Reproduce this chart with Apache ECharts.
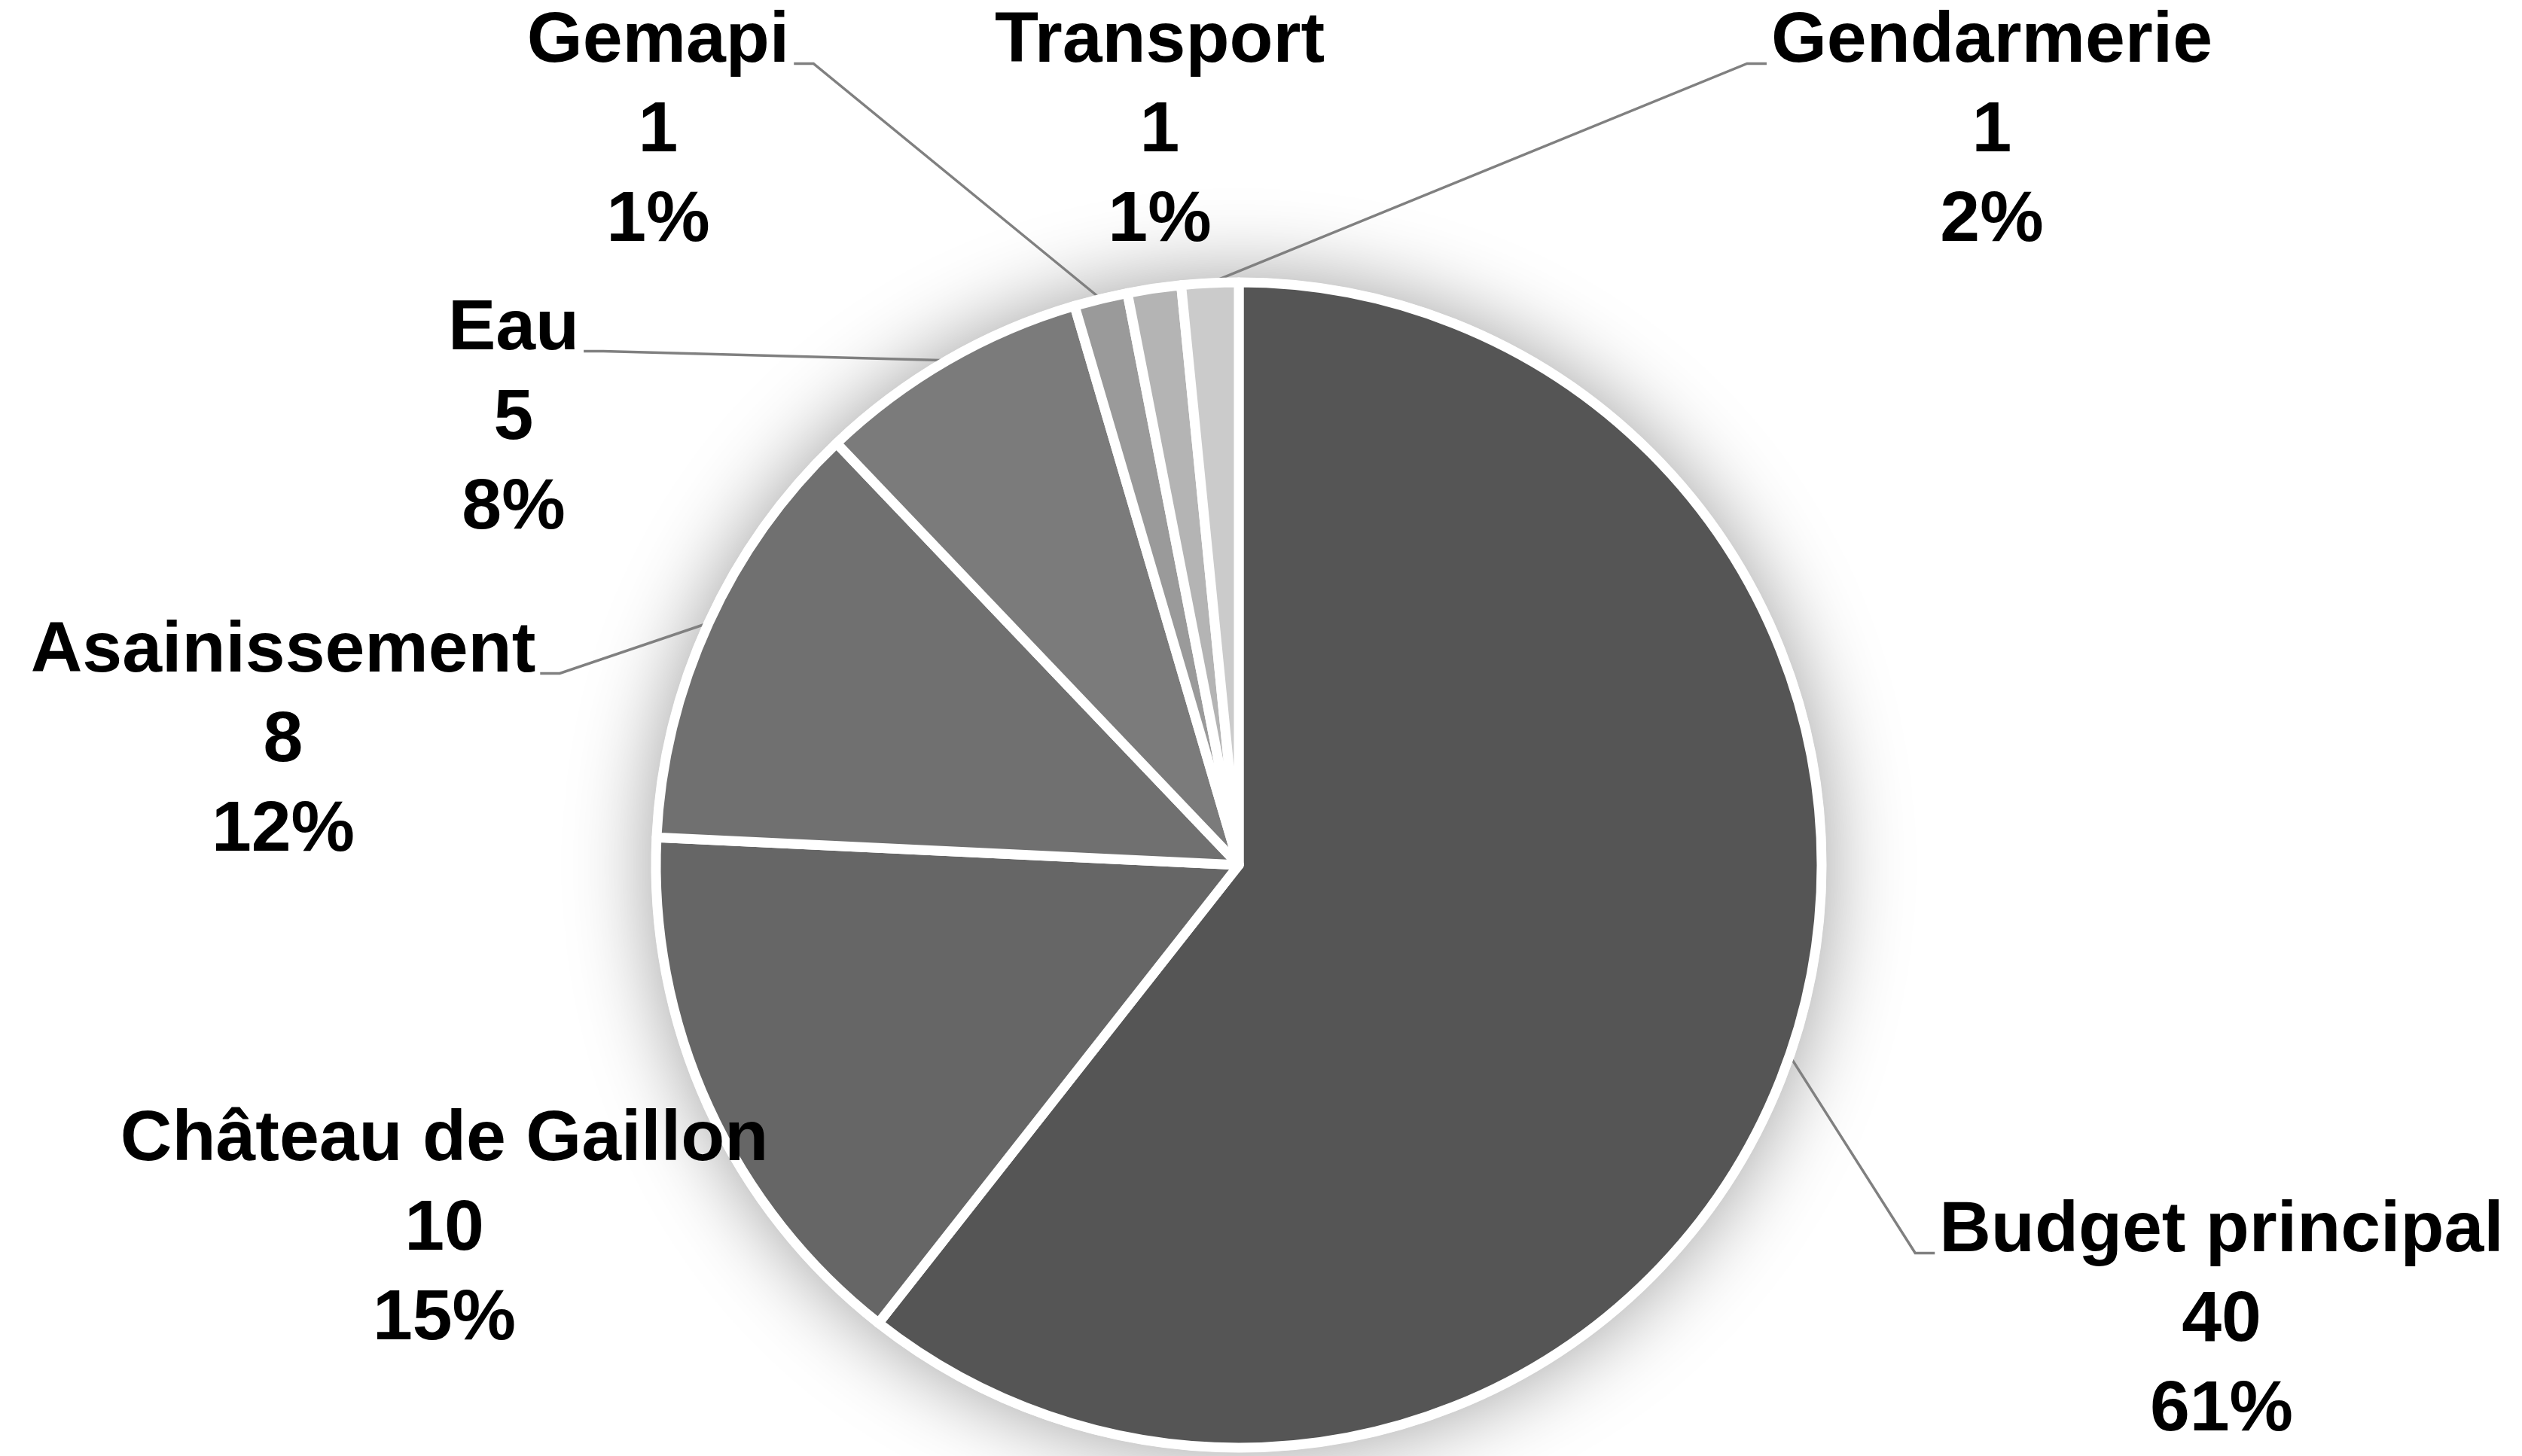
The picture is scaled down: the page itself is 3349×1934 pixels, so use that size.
<!DOCTYPE html>
<html>
<head>
<meta charset="utf-8">
<script src="https://cdn.jsdelivr.net/npm/echarts@6/dist/echarts.min.js"></script>
<style>
html,body{margin:0;padding:0;background:#fff;}
#chart{width:3349px;height:1934px;}
</style>
</head>
<body>
<div id="chart"></div>
<script>
// ---- data ----
const categories = ['Budget principal', 'Château de Gaillon', 'Asainissement', 'Eau', 'Gemapi', 'Transport', 'Gendarmerie'];
const values = [40, 10, 8, 5, 0.98, 0.98, 1.04];
const colors = ['#555555', '#666666', '#707070', '#7b7b7b', '#9a9a9a', '#b4b4b4', '#cbcbcb'];

// ---- layout (label anchor: centre x, middle y of the 3-line block) ----
const labelCenters = [[2950, 1755], [590, 1634], [376, 985], [682, 557], [874, 175], [1540, 175], [2645, 175]];
const hasLeader = [true, false, true, true, true, false, true];
const FONT = 95;
const LINE_H = 119;
const PIE_CENTER = [1645, 1149];
const PIE_R = 774;

const total = values.reduce((a, b) => a + b, 0);

const data = categories.map((name, i) => ({
  name: name,
  value: values[i],
  itemStyle: { color: colors[i] },
  labelLine: { show: hasLeader[i] }
}));

const txt = { fontFamily: 'Liberation Sans, Arial, sans-serif', fontWeight: 'bold', fontSize: FONT, lineHeight: LINE_H, color: '#000' };

const chart = echarts.init(document.getElementById('chart'), null, { renderer: 'canvas' });
chart.setOption({
  backgroundColor: '#ffffff',
  animation: false,
  series: [
    {
      type: 'pie',
      silent: true,
      center: PIE_CENTER,
      radius: PIE_R + 6,
      z: 1,
      label: { show: false },
      labelLine: { show: false },
      itemStyle: { color: '#ffffff', shadowBlur: 110, shadowColor: 'rgba(0,0,0,0.38)' },
      data: [{ value: 1, name: '' }]
    },
    {
      type: 'pie',
      z: 2,
      center: PIE_CENTER,
      radius: PIE_R,
      startAngle: 90,
      clockwise: true,
      avoidLabelOverlap: false,
      itemStyle: { borderColor: '#ffffff', borderWidth: 13 },
      label: {
        show: true,
        position: 'outside',
        formatter: function (p) {
          const v = Math.round(values[p.dataIndex]);
          const pct = Math.round(values[p.dataIndex] / total * 100);
          return '{a|' + p.name + '}\n{a|' + v + '}\n{a|' + pct + '%}';
        },
        rich: { a: txt },
        ...txt
      },
      labelLine: {
        show: true,
        length: 20,
        length2: 20,
        smooth: false,
        lineStyle: { color: '#808080', width: 3.5 }
      },
      labelLayout: function (p) {
        const i = p.dataIndex;
        const cx = labelCenters[i][0], cy = labelCenters[i][1];
        const out = { x: cx, y: cy, align: 'center', verticalAlign: 'middle' };
        if (hasLeader[i] && p.labelLinePoints) {
          const p0 = p.labelLinePoints[0];
          const w = p.labelRect.width;
          const baseY = cy - LINE_H + 0.3 * FONT;
          const right = cx > p0[0];
          const ax = right ? cx - w / 2 - 6 : cx + w / 2 + 6;
          const bx = right ? ax - 26 : ax + 26;
          out.labelLinePoints = [p0, [bx, baseY], [ax, baseY]];
        }
        return out;
      },
      data: data
    }
  ]
});
</script>
</body>
</html>
